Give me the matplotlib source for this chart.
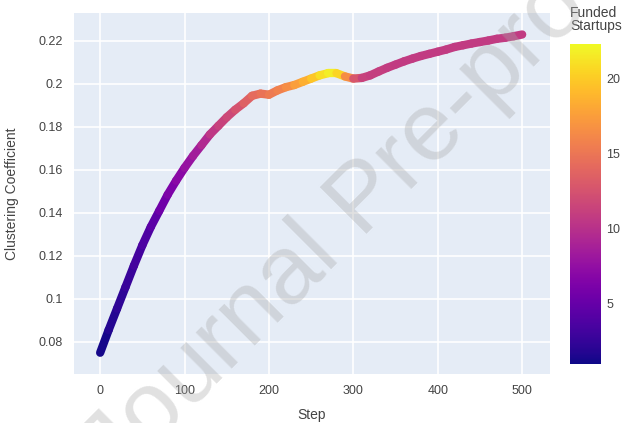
import numpy as np
import matplotlib
matplotlib.use('Agg')
import matplotlib.pyplot as plt
from matplotlib.collections import LineCollection
from matplotlib.colors import Normalize

plt.rcParams['font.family'] = ['Liberation Sans', 'DejaVu Sans']

# 데이터
steps = [0, 10, 20, 30, 40, 50, 60, 70, 80, 90,
         100, 110, 120, 130, 140, 150, 160, 170, 180, 190,
         200, 210, 220, 230, 240, 250, 260, 270, 280, 290,
         300, 310, 320, 330, 340, 350, 360, 370, 380, 390,
         400, 410, 420, 430, 440, 450, 460, 470, 480, 490, 500]
clustering = [0.075, 0.0855, 0.0955, 0.1055, 0.1155, 0.125, 0.1335, 0.141, 0.1485, 0.155,
              0.161, 0.1665, 0.1715, 0.1765, 0.1805, 0.1845, 0.188, 0.191, 0.1945, 0.1955,
              0.195, 0.197, 0.1985, 0.1995, 0.201, 0.2025, 0.204, 0.205, 0.205, 0.2035,
              0.2025, 0.2028, 0.204, 0.2058, 0.2075, 0.209, 0.2105, 0.2118, 0.213, 0.214,
              0.215, 0.216, 0.2172, 0.218, 0.2188, 0.2195, 0.2202, 0.221, 0.2215, 0.2222, 0.223]
funded = [1, 1.5, 2, 2.5, 3, 3.5, 4, 5, 6, 6.5,
          7.5, 8, 9, 10, 11, 11.5, 12, 13, 14, 14.5,
          15, 15.5, 16, 17, 18, 19, 20.5, 21.5, 22, 19,
          14, 11.5, 11, 11, 11, 10.8, 10.8, 10.8, 10.8, 10.8,
          10.8, 10.8, 10.8, 10.8, 10.8, 10.8, 10.8, 10.8, 10.8, 10.8, 10.8]

cbar_ticks = [5, 10, 15, 20]

x = np.array(steps, dtype=float)
y = np.array(clustering)
c = np.array(funded)

fig = plt.figure(figsize=(6.26, 4.23), dpi=100, facecolor='white')
W, H = 626, 423
ax = fig.add_axes([74 / W, 1 - 374 / H, (550 - 74) / W, (374 - 13) / H])
ax.set_facecolor('#E5ECF6')
for s in ax.spines.values():
    s.set_visible(False)
ax.grid(True, color='white', linewidth=1.2)
ax.set_axisbelow(True)

norm = Normalize(vmin=1, vmax=22.3)
pts = np.column_stack([x, y]).reshape(-1, 1, 2)
segs = np.concatenate([pts[:-1], pts[1:]], axis=1)
lc = LineCollection(segs, cmap='plasma', norm=norm, linewidth=6, capstyle='round', joinstyle='round')
lc.set_array((c[:-1] + c[1:]) / 2)
ax.add_collection(lc)

ax.set_xlim(-31, 533)
ax.set_ylim(0.0651, 0.233)
ax.set_xticks([0, 100, 200, 300, 400, 500])
ax.set_yticks([0.08, 0.1, 0.12, 0.14, 0.16, 0.18, 0.2, 0.22])
ax.set_yticklabels(['0.08', '0.1', '0.12', '0.14', '0.16', '0.18', '0.2', '0.22'])
ax.tick_params(length=0, labelsize=9, colors='#444444', pad=8)
ax.set_xlabel('Step', fontsize=10, color='#444444', labelpad=8)
ax.set_ylabel('Clustering Coefficient', fontsize=10, color='#444444', labelpad=14)

# 컬러바
cax = fig.add_axes([570 / W, 1 - 364 / H, 31 / W, 320 / H])
cb = fig.colorbar(lc, cax=cax, ticks=cbar_ticks)
cb.outline.set_visible(False)
cax.tick_params(length=0, labelsize=9, colors='#444444', pad=4)
fig.text(570 / W, 1 - 6 / H, 'Funded\nStartups', fontsize=10, color='#444444',
         ha='left', va='top', linespacing=0.95)

# 워터마크
fig.text(365 / W, 1 - 200 / H, 'Journal Pre-proof', fontsize=70, color='#a8a8a8', alpha=0.35,
         rotation=45, ha='center', va='center', rotation_mode='anchor')

plt.savefig('out.png', dpi=100)
plt.close(fig)
